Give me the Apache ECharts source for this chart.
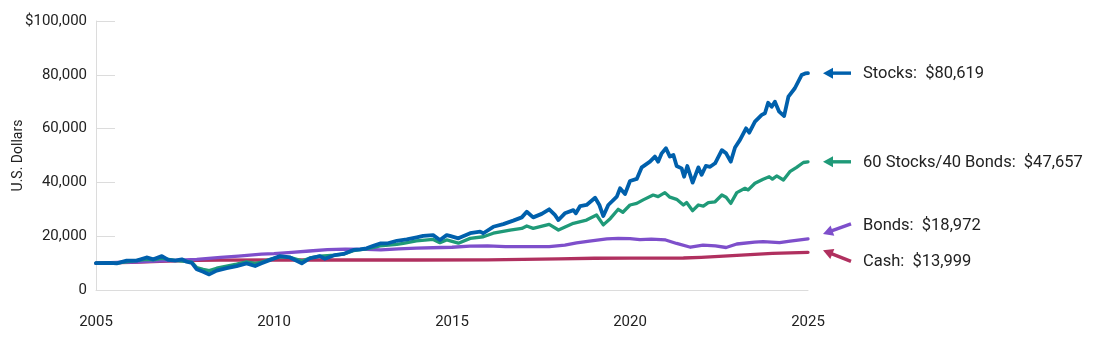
<!DOCTYPE html>
<html>
<head>
<meta charset="utf-8">
<script src="https://cdn.jsdelivr.net/npm/echarts@6/dist/echarts.min.js"></script>
<style>
html,body{margin:0;padding:0;background:#fff;}
#chart{width:1100px;height:341px;}
</style>
</head>
<body>
<div id="chart"></div>
<script>
// ---- Data ----
var xTicks = [2005, 2010, 2015, 2020, 2025];
var seriesNames = ['Stocks', '60 Stocks/40 Bonds', 'Bonds', 'Cash'];
var finalLabels = ['Stocks:  $80,619', '60 Stocks/40 Bonds:  $47,657', 'Bonds:  $18,972', 'Cash:  $13,999'];

var stocks = [
[2005.00,10000],[2005.39,10100],[2005.58,9900],[2005.86,10900],[2006.14,10900],[2006.42,12100],
[2006.61,11400],[2006.85,12600],[2007.03,11200],[2007.22,10900],[2007.41,11400],[2007.55,10500],
[2007.69,10100],[2007.83,7700],[2008.01,6800],[2008.18,5800],[2008.39,7200],[2008.67,8100],
[2008.95,8900],[2009.23,9900],[2009.47,8900],[2009.65,9900],[2009.89,11200],[2010.17,12600],
[2010.45,12100],[2010.78,9900],[2011.01,11800],[2011.29,12600],[2011.43,11600],[2011.71,13000],
[2011.95,13400],[2012.23,14900],[2012.42,15100],[2012.60,15500],[2012.79,16400],[2012.98,17300],
[2013.17,17300],[2013.45,18300],[2013.73,18800],[2014.01,19600],[2014.19,20100],[2014.47,20400],
[2014.66,18600],[2014.85,20400],[2014.94,20100],[2015.18,19200],[2015.51,21100],[2015.79,21700],
[2015.88,21100],[2016.16,23500],[2016.44,24500],[2016.72,25800],[2016.96,27000],[2017.10,29100],
[2017.28,27000],[2017.52,28300],[2017.73,30000],[2017.89,27900],[2017.99,26000],[2018.17,28500],
[2018.41,29700],[2018.48,28500],[2018.60,31200],[2018.78,31600],[2019.02,34300],[2019.14,31600],
[2019.25,27500],[2019.39,31600],[2019.63,34700],[2019.72,37800],[2019.86,35700],[2020.00,40500],
[2020.19,41300],[2020.33,45600],[2020.56,47700],[2020.70,49600],[2020.79,47700],[2020.89,50800],
[2021.01,52700],[2021.12,49600],[2021.22,50200],[2021.31,46100],[2021.45,45200],[2021.52,42100],
[2021.61,46100],[2021.76,39900],[2021.92,45600],[2022.01,42800],[2022.13,46100],[2022.25,45800],
[2022.39,47100],[2022.58,52000],[2022.70,50800],[2022.83,47700],[2022.95,53000],[2023.09,55800],
[2023.26,60100],[2023.35,58500],[2023.51,62600],[2023.70,65100],[2023.79,65700],[2023.88,69600],
[2023.98,68100],[2024.07,70000],[2024.19,66300],[2024.33,64700],[2024.45,71900],[2024.63,75000],
[2024.82,79900],[2024.92,80500],[2025.00,80619]
];

var mix6040 = [
[2005.00,10000],[2005.58,10000],[2006.00,10700],[2006.42,11400],[2006.61,11200],[2006.85,11800],
[2007.22,11000],[2007.55,10600],[2007.69,10400],[2007.83,8300],[2008.01,7700],[2008.18,7200],
[2008.39,8100],[2008.67,8900],[2008.95,9600],[2009.23,10500],[2009.47,9900],[2009.65,10400],
[2009.89,11400],[2010.17,12300],[2010.45,12100],[2010.78,10800],[2011.01,11900],[2011.29,12600],
[2011.71,13000],[2011.95,13300],[2012.23,14600],[2012.60,15300],[2012.98,16400],[2013.45,17000],
[2013.63,17300],[2014.00,18300],[2014.47,18800],[2014.66,17600],[2014.85,18600],[2015.18,17400],
[2015.51,19200],[2015.88,19800],[2016.16,21100],[2016.63,22300],[2016.96,22900],[2017.10,23800],
[2017.28,22900],[2017.73,24400],[2017.99,22300],[2018.41,24800],[2018.78,26000],[2019.06,27900],
[2019.25,24200],[2019.45,26600],[2019.67,30000],[2019.80,28900],[2020.00,31600],[2020.19,32200],
[2020.37,33500],[2020.65,35300],[2020.79,34700],[2020.98,36200],[2021.12,34500],[2021.31,33700],
[2021.50,31600],[2021.59,32500],[2021.76,29500],[2021.92,31600],[2022.06,31200],[2022.20,32500],
[2022.39,32800],[2022.58,35300],[2022.70,34500],[2022.83,32200],[2023.00,36200],[2023.23,37800],
[2023.32,37200],[2023.51,39700],[2023.74,41200],[2023.91,42100],[2024.00,41200],[2024.12,42400],
[2024.31,40900],[2024.49,44000],[2024.68,45600],[2024.87,47400],[2025.00,47657]
];

var bonds = [
[2005.00,10000],[2006.00,10400],[2007.00,10900],[2007.83,11400],[2008.50,12100],[2009.00,12600],
[2009.65,13300],[2010.00,13500],[2010.50,14000],[2011.00,14500],[2011.50,15000],[2012.00,15200],
[2012.60,15100],[2013.00,14900],[2013.50,15300],[2014.00,15600],[2014.70,15800],[2015.00,15900],
[2015.50,16300],[2016.00,16400],[2016.50,16100],[2017.00,16100],[2017.73,16100],[2018.17,16700],
[2018.50,17500],[2018.86,18200],[2019.35,19000],[2019.67,19200],[2020.00,19100],[2020.28,18700],
[2020.60,18900],[2021.00,18600],[2021.31,17300],[2021.70,15900],[2022.05,16700],[2022.40,16400],
[2022.70,15800],[2023.00,17100],[2023.50,17800],[2023.74,18000],[2024.20,17600],[2024.50,18200],
[2025.00,18972]
];

var cash = [
[2005.00,10000],[2006.00,10300],[2007.00,10700],[2007.83,11000],[2008.50,11100],[2010.00,11150],
[2012.00,11150],[2014.00,11150],[2016.00,11200],[2017.00,11350],[2018.00,11550],[2019.00,11800],
[2020.00,11850],[2021.00,11850],[2021.50,11900],[2022.00,12150],[2022.50,12500],[2023.00,12900],
[2023.50,13250],[2024.00,13600],[2024.50,13800],[2025.00,13999]
];

// ---- Chart ----
var colors = ['#0060ac', '#1f9a78', '#7e4fcb', '#b0305f'];
var FONT = 'Roboto, "Noto Sans", sans-serif';
var chart = echarts.init(document.getElementById('chart'), null, {renderer: 'canvas'});

var allData = [stocks, mix6040, bonds, cash];
var drawOrder = [3, 2, 1, 0];
var series = drawOrder.map(function (i) {
  return {
    name: seriesNames[i],
    type: 'line',
    data: allData[i],
    showSymbol: false,
    symbol: 'none',
    smooth: false,
    z: 10 - i,
    lineStyle: {color: colors[i], width: i === 0 ? 3.8 : 3.3, join: 'round', cap: 'round'},
    itemStyle: {color: colors[i]},
    animation: false
  };
});

chart.setOption({
  animation: false,
  grid: {left: 96, right: 292, top: 21, bottom: 51, containLabel: false, outerBoundsMode: 'none'},
  xAxis: {
    type: 'value', min: xTicks[0], max: xTicks[xTicks.length - 1], interval: 5,
    axisLine: {show: true, lineStyle: {color: '#dcdcdc', width: 1}},
    axisTick: {show: false},
    splitLine: {show: false},
    axisLabel: {margin: 25, color: '#222', fontSize: 15, fontFamily: FONT,
      formatter: function (v) { return String(Math.round(v)); }}
  },
  yAxis: {
    type: 'value', min: 0, max: 100000, interval: 20000,
    name: 'U.S. Dollars', nameLocation: 'middle', nameGap: 71, nameRotate: 90,
    nameMoveOverlap: false,
    nameTextStyle: {color: '#222', fontSize: 14, fontFamily: FONT},
    axisLine: {show: true, lineStyle: {color: '#dcdcdc', width: 1}},
    axisTick: {show: true, inside: true, length: 19, lineStyle: {color: '#dcdcdc', width: 1}},
    splitLine: {show: false},
    axisLabel: {margin: 9, color: '#222', fontSize: 15, fontFamily: FONT,
      formatter: function (v) {
        var s = v.toLocaleString('en-US');
        return v === 100000 ? '$' + s : s;
      }}
  },
  series: series
});

// ---- Annotations (arrows + end labels), anchored to the last data points ----
function endPixel(d) { return chart.convertToPixel({gridIndex: 0}, d[d.length - 1]); }
var labelDy = [0, 0, -14, 9];   // label centre relative to series end
var tipDy = [0, 0, 9, -11];     // arrow tip relative to label centre
var tailDy = [0, 0, -1, 0];     // arrow tail relative to label centre
var graphics = [];
allData.forEach(function (d, i) {
  var p = endPixel(d);
  var ty = p[1] + labelDy[i];
  var tipX = p[0] + 15, tipY = ty + tipDy[i];
  var tailX = tipX + 28, tailY = ty + tailDy[i];
  var dx = tailX - tipX, dy = tailY - tipY, len = Math.sqrt(dx * dx + dy * dy);
  var ux = dx / len, uy = dy / len, nx = -uy, ny = ux;
  var hl = 10, hw = 5.5;
  var bx = tipX + ux * hl, by = tipY + uy * hl;
  graphics.push({
    type: 'line', silent: true,
    shape: {x1: bx - ux * 1, y1: by - uy * 1, x2: tailX, y2: tailY},
    style: {stroke: colors[i], lineWidth: 3.4}
  });
  graphics.push({
    type: 'polygon', silent: true,
    shape: {points: [[tipX, tipY], [bx + nx * hw, by + ny * hw], [bx - nx * hw, by - ny * hw]]},
    style: {fill: colors[i]}
  });
  graphics.push({
    type: 'text', silent: true, x: tailX + 12, y: ty + 1,
    style: {text: finalLabels[i], fill: '#222', font: '16.5px ' + FONT, verticalAlign: 'middle'}
  });
});
chart.setOption({graphic: graphics});
</script>
</body>
</html>
